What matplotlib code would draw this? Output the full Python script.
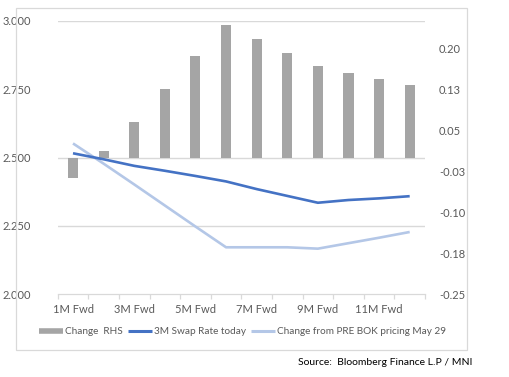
import matplotlib
matplotlib.use("Agg")
import matplotlib.pyplot as plt
import numpy as np
from decimal import Decimal, ROUND_HALF_UP
from matplotlib.lines import Line2D
from matplotlib.patches import Rectangle
from matplotlib.ticker import FuncFormatter

plt.rcParams["font.family"] = ["Lato", "DejaVu Sans"]

CATEGORIES = ["1M Fwd", "2M Fwd", "3M Fwd", "4M Fwd", "5M Fwd", "6M Fwd",
              "7M Fwd", "8M Fwd", "9M Fwd", "10M Fwd", "11M Fwd", "12M Fwd"]
CHANGE_RHS = [-0.037, 0.012, 0.065, 0.126, 0.186, 0.243,
              0.217, 0.191, 0.168, 0.155, 0.144, 0.133]
SWAP_TODAY = [2.516, 2.494, 2.470, 2.452, 2.433, 2.413,
              2.385, 2.360, 2.335, 2.345, 2.351, 2.359]
PRE_BOK = [2.552, 2.478, 2.402, 2.325, 2.248, 2.172,
           2.172, 2.172, 2.167, 2.187, 2.207, 2.228]

GRID = "#d9d9d9"
TXT = "#595959"
BAR = "#a5a5a5"
DARK = "#4472c4"
LIGHT = "#b4c7e7"
FS = 8
FS_LEG = 7.2

W, H = 509, 377
fig = plt.figure(figsize=(W / 100, H / 100), dpi=100)

# outer chart frame
fig.patches.append(Rectangle((15.7 / W, 1 - 350 / H), 451 / W, 341.7 / H,
                             transform=fig.transFigure, fill=False,
                             ec=GRID, lw=0.9))

ax = fig.add_axes([57.7 / W, 1 - 294.3 / H, 367.3 / W, 273.3 / H])
ax2 = ax.twinx()
x = np.arange(len(CATEGORIES))

# bars on right axis (drawn underneath)
ax2.bar(x, CHANGE_RHS, width=0.33, color=BAR, zorder=2)
ax2.set_ylim(-0.25, 0.25)
ax2.set_yticks(np.arange(-0.25, 0.2001, 0.075))


def excel_fmt(v, pos):
    d = Decimal(str(round(v, 6))).quantize(Decimal("0.01"), rounding=ROUND_HALF_UP)
    return f"{d}"


ax2.yaxis.set_major_formatter(FuncFormatter(excel_fmt))
# gridlines matching the left axis steps
ax2.set_yticks([-0.125, 0.0, 0.125, 0.25], minor=True)
ax2.grid(True, which="minor", axis="y", color=GRID, lw=1, zorder=0)
ax2.tick_params(axis="y", which="both", length=0, labelsize=FS,
                labelcolor=TXT, pad=10)

# lines on left axis, placed on top
ax.set_zorder(ax2.get_zorder() + 1)
ax.patch.set_visible(False)
ax.plot(x, PRE_BOK, color=LIGHT, lw=1.9, solid_capstyle="butt", zorder=3)
ax.plot(x, SWAP_TODAY, color=DARK, lw=1.9, solid_capstyle="butt", zorder=4)
ax.set_ylim(2.0, 3.0)
ax.set_yticks(np.arange(2.0, 3.001, 0.25))
ax.yaxis.set_major_formatter(FuncFormatter(lambda v, p: f"{v:.3f}"))
ax.tick_params(axis="y", length=0, labelsize=FS, labelcolor=TXT, pad=19)

ax.set_xlim(-0.5, len(CATEGORIES) - 0.5)
ax.set_xticks(x[::2])
ax.set_xticklabels(CATEGORIES[::2])
ax.set_xticks(np.arange(-0.5, len(CATEGORIES), 1), minor=True)
ax.tick_params(axis="x", which="major", length=0, labelsize=FS,
               labelcolor=TXT, pad=7)
ax.tick_params(axis="x", which="minor", length=3.5, color=GRID, width=0.9)

for a in (ax, ax2):
    for s in ("left", "right", "top", "bottom"):
        a.spines[s].set_visible(False)
ax.spines["bottom"].set_visible(True)
ax.spines["bottom"].set_color(GRID)
ax.spines["bottom"].set_linewidth(0.9)

handles = [Line2D([], [], color=BAR, lw=4, solid_capstyle="butt"),
           Line2D([], [], color=DARK, lw=2.2, solid_capstyle="butt"),
           Line2D([], [], color=LIGHT, lw=2.2, solid_capstyle="butt")]
labels = ["Change  RHS", "3M Swap Rate today", "Change from PRE BOK pricing May 29"]
leg = fig.legend(handles, labels, loc="center", ncol=3,
                 bbox_to_anchor=(242.5 / W, 1 - 331.7 / H), frameon=False,
                 fontsize=FS_LEG, handlelength=2.4, handletextpad=0.2,
                 columnspacing=0.5, borderaxespad=0, borderpad=0)
for t in leg.get_texts():
    t.set_color(TXT)

fig.text(385 / W, 1 - 362.7 / H, "Source:  Bloomberg Finance L.P / MNI",
         ha="center", va="center", fontsize=7.5, color="black")

fig.savefig("out.png", dpi=100)
